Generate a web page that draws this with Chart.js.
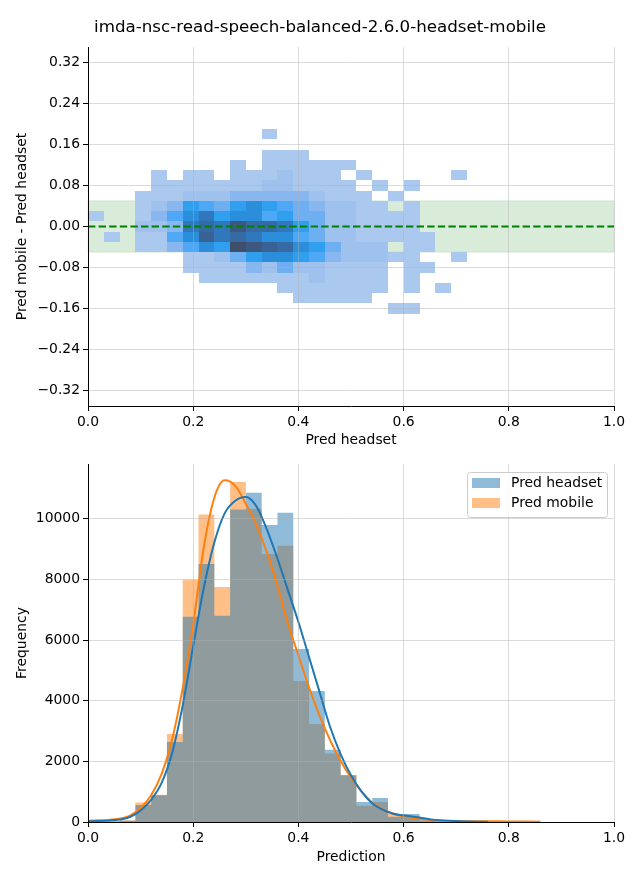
<!DOCTYPE html>
<html>
<head>
<meta charset="utf-8">
<script src="https://cdn.jsdelivr.net/npm/chart.js@4.4.1/dist/chart.umd.min.js"></script>
<style>
  body { margin: 0; background: #fff; }
  #wrap { position: relative; width: 640px; height: 880px; }
  #title { position: absolute; left: 0; top: 14px; width: 640px; text-align: center;
           font: 16.7px "DejaVu Sans", sans-serif; line-height: 24px; color: #000; }
  #top { position: absolute; left: 0; top: 0; }
  #bottom { position: absolute; left: 0; top: 450px; }
</style>
</head>
<body>
<div id="wrap">
  <canvas id="top" width="640" height="450"></canvas>
  <canvas id="bottom" width="640" height="430"></canvas>
  <div id="title">imda-nsc-read-speech-balanced-2.6.0-headset-mobile</div>
</div>
<script>
// ---- data ----

// histogram bins (shared by the 2d and 1d histograms)
var binEdges = [0.0000, 0.0300, 0.0600, 0.0901, 0.1201, 0.1501, 0.1801, 0.2101, 0.2402, 0.2702,
                0.3002, 0.3302, 0.3602, 0.3903, 0.4203, 0.4503, 0.4803, 0.5103, 0.5404, 0.5704,
                0.6004, 0.6304, 0.6604, 0.6905, 0.7205, 0.7505, 0.7805, 0.8105, 0.8406, 0.8706];

var xTicks = [0, 0.2, 0.4, 0.6, 0.8, 1.0];
var diffTicks = [-0.32, -0.24, -0.16, -0.08, 0, 0.08, 0.16, 0.24, 0.32];
var freqTicks = [0, 2000, 4000, 6000, 8000, 10000];

// 2d histogram: rows of y bins (top to bottom), density level per x bin (0 = empty)
var diffEdges = [0.19, 0.17, 0.15, 0.13, 0.11, 0.09, 0.07, 0.05, 0.03, 0.01,
                 -0.01, -0.03, -0.05, -0.07, -0.09, -0.11, -0.13, -0.15, -0.17];
var heatLevels = [
  [0,0,0,0,0,0,0,0,0,0,0,1,0,0,0,0,0,0,0,0,0,0,0,0],
  [0,0,0,0,0,0,0,0,0,0,0,0,0,0,0,0,0,0,0,0,0,0,0,0],
  [0,0,0,0,0,0,0,0,0,0,0,1,1,1,0,0,0,0,0,0,0,0,0,0],
  [0,0,0,0,0,0,0,0,0,1,0,1,1,1,1,1,1,0,0,0,0,0,0,0],
  [0,0,0,0,1,0,1,1,0,1,1,1,2,1,1,1,0,1,0,0,0,0,0,1],
  [0,0,0,0,1,1,1,1,1,1,1,2,2,1,1,1,1,0,1,0,1,0,0,0],
  [0,0,0,1,1,1,2,2,2,3,3,3,3,3,2,1,1,1,0,1,0,0,0,0],
  [0,0,0,1,2,3,6,5,4,6,7,6,5,4,3,2,2,1,1,0,1,0,0,0],
  [1,0,0,1,3,5,7,8,6,7,7,5,6,4,4,2,2,1,1,1,1,0,0,0],
  [0,0,0,2,2,3,8,9,8,11,9,9,8,6,4,2,2,1,1,1,1,0,0,0],
  [0,1,0,1,1,5,7,10,8,9,8,7,7,5,4,2,2,1,1,1,1,1,0,0],
  [0,0,0,1,1,3,5,7,6,12,11,10,9,7,6,4,2,2,2,0,1,1,0,0],
  [0,0,0,0,0,0,1,1,2,4,6,7,7,6,5,3,2,2,2,1,1,0,0,1],
  [0,0,0,0,0,0,1,1,1,1,3,2,4,2,2,1,1,1,1,0,1,1,0,0],
  [0,0,0,0,0,0,0,1,1,1,1,1,1,1,2,1,1,1,1,0,1,0,0,0],
  [0,0,0,0,0,0,0,0,0,0,0,0,1,1,1,1,1,1,1,0,1,0,1,0],
  [0,0,0,0,0,0,0,0,0,0,0,0,0,1,1,1,1,1,0,0,0,0,0,0],
  [0,0,0,0,0,0,0,0,0,0,0,0,0,0,0,0,0,0,0,1,1,0,0,0]
];
var bandLimits = [-0.05, 0.05];
var zeroLine = 0;

// 1d histograms (counts per bin)
var histHeadset = [10, 20, 40, 560, 880, 2640, 6770, 8510, 6800, 10310, 10860, 9800, 10200, 5710, 4320,
                   2380, 1550, 660, 790, 175, 260, 60, 30, 20, 5, 2, 0, 0, 0];
var histMobile = [20, 30, 60, 640, 900, 2900, 7990, 10140, 7750, 11220, 10330, 8840, 9110, 4650, 3230,
                  2260, 1530, 540, 660, 260, 175, 50, 30, 15, 10, 10, 8, 5, 3];

// kde curves
var kdeX = [0, 0.02, 0.04, 0.06, 0.08, 0.10, 0.12, 0.14, 0.16, 0.18, 0.20, 0.22, 0.24, 0.26, 0.28,
            0.30, 0.32, 0.34, 0.36, 0.38, 0.40, 0.42, 0.44, 0.46, 0.48, 0.50, 0.52, 0.54, 0.56, 0.58,
            0.60, 0.63, 0.66, 0.70, 0.76, 0.80, 0.86];
var kdeHeadset = [25, 35, 50, 80, 165, 380, 730, 1290, 2280, 3840, 5800, 7710, 9210, 10190, 10600,
                  10720, 10420, 9650, 8700, 7650, 6600, 5450, 4300, 3150, 2250, 1540, 1000, 620, 410, 270,
                  220, 150, 70, 30, 5, null, null];
var kdeMobile = [40, 55, 70, 110, 210, 460, 880, 1590, 2730, 4410, 6520, 9050, 10690, 11270, 11090,
                 10500, 9800, 8900, 7800, 6550, 5500, 4450, 3520, 2710, 2030, 1460, 1010, 650, 420, 280,
                 180, 100, 60, 35, 25, 20, 10];

// ---- styles ----
var heatColors = [null, '#abc8ee', '#9ec1ee', '#88b7ef', '#6eaff2', '#4fa8f5', '#2f9fee',
                  '#2a8edb', '#3077bb', '#356ba2', '#3a6193', '#3c5880', '#3d4f6b'];
var gridColor = 'rgba(176,176,176,0.45)';

Chart.defaults.font.family = '"DejaVu Sans", sans-serif';
Chart.defaults.font.size = 13.9;
Chart.defaults.color = '#000';

function xAxis(title, height, titlePad) {
    return {
        type: 'linear', min: 0, max: 1, offset: false,
        afterBuildTicks: function (s) { s.ticks = xTicks.map(function (v) { return {value: v}; }); },
        afterFit: function (s) { s.height = height; },
        ticks: { callback: function (v) { return v.toFixed(1); }, padding: 3, maxRotation: 0, autoSkip: false },
        grid: { color: gridColor, lineWidth: 1, z: 1, offset: false, tickColor: '#000', tickLength: 5, tickWidth: 1 },
        border: { display: true, color: '#000', width: 1, z: 2 },
        title: { display: true, text: title, padding: {top: 0, bottom: titlePad} }
    };
}

function yAxis(title, min, max, tickList, fmt, skipGridAt) {
    return {
        type: 'linear', min: min, max: max,
        afterBuildTicks: function (s) { s.ticks = tickList.map(function (v) { return {value: v}; }); },
        afterFit: function (s) { s.width = 88; },
        ticks: { callback: fmt, padding: 3, autoSkip: false },
        grid: {
            color: function (c) {
                return (c.tick && c.tick.value === skipGridAt) ? 'rgba(0,0,0,0)' : gridColor;
            },
            lineWidth: 1, z: 1, tickColor: '#000', tickLength: 5, tickWidth: 1
        },
        border: { display: true, color: '#000', width: 1, z: 2 },
        title: { display: true, text: title, padding: {top: 13.7, bottom: 0} }
    };
}

// GRAFICO - DIFERENCA (2d histogram) //

var heatPlugin = {
    id: 'heat',
    beforeDatasetsDraw: function (chart) {
        var ctx = chart.ctx, a = chart.chartArea, x = chart.scales.x, y = chart.scales.y;
        ctx.save();
        var b0 = y.getPixelForValue(bandLimits[1]), b1 = y.getPixelForValue(bandLimits[0]);
        ctx.fillStyle = 'rgba(0,128,0,0.15)';
        ctx.fillRect(a.left, b0, a.right - a.left, b1 - b0);
        ctx.strokeStyle = 'rgba(0,128,0,0.12)';
        ctx.lineWidth = 1;
        ctx.strokeRect(a.left, b0, a.right - a.left, b1 - b0);
        heatLevels.forEach(function (row, r) {
            row.forEach(function (lv, c) {
                if (!lv) return;
                var x0 = Math.round(x.getPixelForValue(binEdges[c]));
                var x1 = Math.round(x.getPixelForValue(binEdges[c + 1]));
                var y0 = Math.round(y.getPixelForValue(diffEdges[r]));
                var y1 = Math.round(y.getPixelForValue(diffEdges[r + 1]));
                ctx.fillStyle = heatColors[lv];
                ctx.fillRect(x0, y0, x1 - x0, y1 - y0);
            });
        });
        ctx.restore();
    }
};

var ctx = document.getElementById('top').getContext('2d');
var chart = new Chart(ctx, {
    type: 'scatter',
    data: {
        datasets: [{
            label: 'zero',
            data: [{x: xTicks[0], y: zeroLine}, {x: xTicks[xTicks.length - 1], y: zeroLine}],
            showLine: true,
            borderColor: '#008000',
            borderWidth: 2,
            borderDash: [7.4, 3.2],
            pointRadius: 0
        }]
    },
    options: {
        responsive: false,
        animation: false,
        events: [],
        layout: { padding: {top: 47, right: 26, left: 0, bottom: 0} },
        plugins: { legend: {display: false}, tooltip: {enabled: false} },
        scales: {
            x: xAxis('Pred headset', 44, 1),
            y: yAxis('Pred mobile - Pred headset', -0.35, 0.35, diffTicks,
                     function (v) { return v.toFixed(2).replace('-', '\u2212'); }, zeroLine)
        }
    },
    plugins: [heatPlugin]
});

// GRAFICO - HISTOGRAMA //

var histLegend = {
    id: 'histLegend',
    afterDraw: function (chart) {
        var c = chart.ctx, a = chart.chartArea;
        var bars = chart.data.datasets.filter(function (d) { return d.fill; });
        var w = 140, h = 45, left = a.right - 7 - w, top = a.top + 8;
        c.save();
        c.beginPath();
        if (c.roundRect) c.roundRect(left + 0.5, top + 0.5, w, h, 3); else c.rect(left + 0.5, top + 0.5, w, h);
        c.fillStyle = 'rgba(255,255,255,0.8)';
        c.fill();
        c.strokeStyle = '#cccccc';
        c.lineWidth = 1;
        c.stroke();
        c.font = '13.9px "DejaVu Sans", sans-serif';
        c.textBaseline = 'middle';
        bars.forEach(function (d, i) {
            var cy = top + 11 + i * 20;
            c.fillStyle = d.backgroundColor;
            c.fillRect(left + 5, cy - 5, 28, 10);
            c.fillStyle = '#000';
            c.fillText(d.label, left + 44, cy);
        });
        c.restore();
    }
};

// histogram outline: one point per bin edge, each bin's count held until the next edge
function histSteps(counts) {
    return binEdges.map(function (e, i) {
        return {x: e, y: counts[Math.min(i, counts.length - 1)]};
    });
}

var ctx1 = document.getElementById('bottom').getContext('2d');
var chart1 = new Chart(ctx1, {
    type: 'line',
    data: {
        datasets: [{
            label: 'kde headset',
            data: kdeX.map(function (x, i) { return {x: x, y: kdeHeadset[i]}; }),
            borderColor: '#1f77b4',
            borderWidth: 2,
            pointRadius: 0,
            cubicInterpolationMode: 'monotone',
            order: 0
        }, {
            label: 'kde mobile',
            data: kdeX.map(function (x, i) { return {x: x, y: kdeMobile[i]}; }),
            borderColor: '#ff7f0e',
            borderWidth: 2,
            pointRadius: 0,
            cubicInterpolationMode: 'monotone',
            order: 1
        }, {
            label: 'Pred headset',
            data: histSteps(histHeadset),
            stepped: 'before',
            fill: 'origin',
            backgroundColor: 'rgba(31,119,180,0.5)',
            borderColor: 'rgba(0,0,0,0)',
            borderWidth: 1,
            pointRadius: 0,
            order: 2
        }, {
            label: 'Pred mobile',
            data: histSteps(histMobile),
            stepped: 'before',
            fill: 'origin',
            backgroundColor: 'rgba(255,127,14,0.5)',
            borderColor: 'rgba(0,0,0,0)',
            borderWidth: 1,
            pointRadius: 0,
            order: 3
        }]
    },
    options: {
        responsive: false,
        animation: false,
        events: [],
        layout: { padding: {top: 14, right: 26, left: 0, bottom: 0} },
        plugins: { legend: {display: false}, tooltip: {enabled: false} },
        scales: {
            x: xAxis('Prediction', 58, 14.7),
            y: yAxis('Frequency', 0, 11810, freqTicks, function (v) { return String(v); }, null)
        }
    },
    plugins: [histLegend]
});
</script>
</body>
</html>
